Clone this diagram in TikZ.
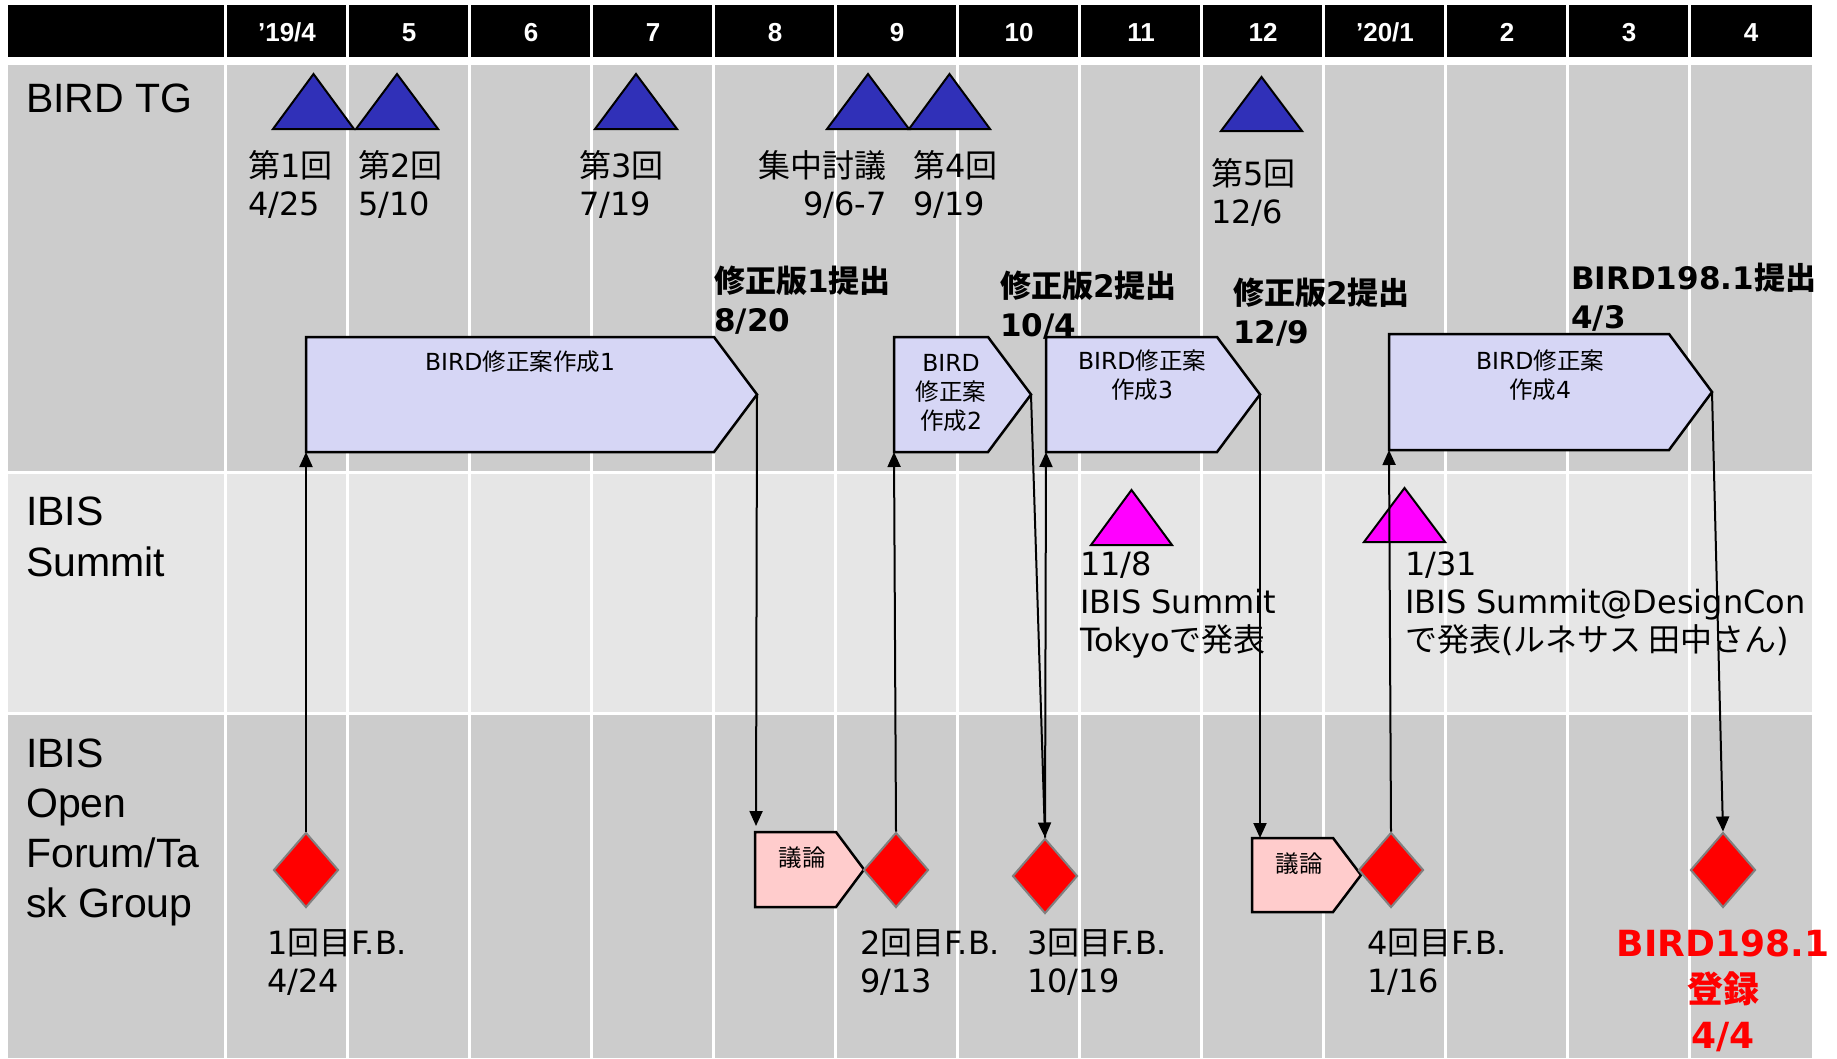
\documentclass[tikz,border=0pt]{standalone}
\usepackage{fontspec}
\setmainfont{DejaVu Sans}
\newfontfamily\jp{Noto Sans CJK JP}
\newfontfamily\arialf{Liberation Sans}
\usetikzlibrary{arrows.meta,shapes.geometric}
\newcommand\J[1]{{\jp #1}}
\definecolor{rowgray}{HTML}{CCCCCC}
\definecolor{rowlight}{HTML}{E6E6E6}
\definecolor{tgblue}{RGB}{48,48,184}
\definecolor{boxlav}{HTML}{D6D6F5}
\definecolor{boxpink}{HTML}{FFCCCC}
\definecolor{dgray}{HTML}{808080}
\definecolor{mag}{RGB}{255,0,255}
\begin{document}
\begin{tikzpicture}[x=1pt,y=-1pt,
  tri/.style={draw=black, line width=2pt, fill=tgblue},
  mtri/.style={draw=black, line width=2pt, fill=mag},
  pent/.style={draw=black, line width=2.5pt, fill=boxlav},
  gpent/.style={draw=black, line width=2.5pt, fill=boxpink},
  diam/.style={diamond, draw=dgray, fill=red, line width=2pt, minimum width=65pt, minimum height=75pt, inner sep=0pt},
  arr/.style={line width=2pt, -{Triangle[length=15pt,width=13pt]}},
  lbl/.style={font=\fontsize{32}{38}\selectfont, inner sep=0pt, align=left, anchor=base west},
  blbl/.style={font=\fontsize{31}{39}\selectfont\bfseries, inner sep=0pt, align=left, anchor=base west},
  boxtxt/.style={font=\fontsize{23.5}{29}\selectfont, inner sep=0pt, align=center, anchor=base},
  rowlbl/.style={font=\arialf\fontsize{41}{51}\selectfont, inner sep=0pt, align=left, anchor=base west},
  hdr/.style={font=\arialf\bfseries\fontsize{26}{30}\selectfont, text=white, inner sep=0pt, anchor=base},
]
\useasboundingbox (0,0) rectangle (1837,1058);
\fill[white] (0,0) rectangle (1837,1058);
% header and rows
\fill[black] (8,5) rectangle (1812,57);
\fill[rowgray] (8,65) rectangle (1812,471);
\fill[rowlight] (8,474) rectangle (1812,712);
\fill[rowgray] (8,715) rectangle (1812,1058);
\foreach \k in {0,...,12} \draw[white, line width=3pt] ({225.5+122*\k},5) -- ({225.5+122*\k},1058);
\foreach \t [count=\i from 0] in {’19/4,5,6,7,8,9,10,11,12,’20/1,2,3,4}
  \node[hdr] (h\i) at ({287+122*\i},41) {\t};
% row labels (anchor = baseline of last line)
\node[rowlbl] (rl1) at (26,112) {BIRD TG};
\node[rowlbl] (rl2) at (26,576) {IBIS\\Summit};
\node[rowlbl, font=\arialf\fontsize{41}{50}\selectfont] (rl3) at (26,917) {IBIS\\Open\\Forum/Ta\\sk Group};
% BIRD TG triangles
\draw[tri] (273,129) -- (354,129) -- (313.5,74) -- cycle;
\draw[tri] (356,129) -- (438,129) -- (397,74) -- cycle;
\draw[tri] (595,129) -- (677,129) -- (636,74) -- cycle;
\draw[tri] (827,129) -- (909,129) -- (868,74) -- cycle;
\draw[tri] (909,129) -- (990,129) -- (949.5,74) -- cycle;
\draw[tri] (1221,131) -- (1302,131) -- (1261.5,77) -- cycle;
% summit triangles
\draw[mtri] (1091,545) -- (1172,545) -- (1131.5,490) -- cycle;
\draw[mtri] (1364,542) -- (1445,542) -- (1404.5,488) -- cycle;
% pentagons
\draw[pent] (306,337) -- (714,337) -- (757,394.5) -- (714,452) -- (306,452) -- cycle;
\draw[pent] (894,337) -- (988,337) -- (1031,394.5) -- (988,452) -- (894,452) -- cycle;
\draw[pent] (1046,337) -- (1217,337) -- (1260,394.5) -- (1217,452) -- (1046,452) -- cycle;
\draw[pent] (1389,334) -- (1669,334) -- (1712,392) -- (1669,450) -- (1389,450) -- cycle;
\draw[gpent] (755,832) -- (836,832) -- (864,869.5) -- (836,907) -- (755,907) -- cycle;
\draw[gpent] (1252,838) -- (1333,838) -- (1361,875) -- (1333,912) -- (1252,912) -- cycle;
\coordinate (p1sw) at (306,452);
\coordinate (p1tip) at (757,394.5);
\coordinate (p2sw) at (894,452);
\coordinate (p2tip) at (1031,394.5);
\coordinate (p3sw) at (1046,452);
\coordinate (p3tip) at (1260,394.5);
\coordinate (p4sw) at (1389,450);
\coordinate (p4tip) at (1712,392);
\coordinate (g1nw) at (756,832);
\coordinate (g2n) at (1260,838);
% diamonds
\node[diam] (d1) at (306,870) {};
\node[diam] (d2) at (896,870) {};
\node[diam] (d3) at (1045,876) {};
\node[diam] (d4) at (1391,870) {};
\node[diam] (d5) at (1723,870) {};
% arrows
\draw[arr] (d1.north) -- (p1sw);
\draw[arr, shorten >=6pt] (p1tip) -- (g1nw);
\draw[arr] (d2.north) -- (p2sw);
\draw[arr] (p2tip) -- (d3.north);
\draw[arr] (d3.north) -- (p3sw);
\draw[arr] (p3tip) -- (g2n);
\draw[arr] (d4.north) -- (p4sw);
\draw[arr] (p4tip) -- (d5.north);
% box texts
\node[boxtxt] (p1t) at (520,370) {BIRD\J{修正案作成}1};
\node[boxtxt] (p2t) at (951,429) {BIRD\\\J{修正案}\\\J{作成}2};
\node[boxtxt] (p3t) at (1142,398) {BIRD\J{修正案}\\\J{作成}3};
\node[boxtxt] (p4t) at (1540,398) {BIRD\J{修正案}\\\J{作成}4};
\node[boxtxt] (g1t) at (802,866) {\J{議論}};
\node[boxtxt] (g2t) at (1299,872) {\J{議論}};
% TG meeting labels
\node[lbl] (m1) at (248,215) {\J{第}1\J{回}\\4/25};
\node[lbl] (m2) at (358,215) {\J{第}2\J{回}\\5/10};
\node[lbl] (m3) at (579,215) {\J{第}3\J{回}\\7/19};
\node[lbl, anchor=base east, align=right] (m4) at (887,215) {\J{集中討議}\\9/6-7};
\node[lbl] (m5) at (913,215) {\J{第}4\J{回}\\9/19};
\node[lbl] (m6) at (1211,223) {\J{第}5\J{回}\\12/6};
% submission labels
\node[blbl] (s1) at (714,331) {\J{修正版}1\J{提出}\\8/20};
\node[blbl] (s2) at (1000,336) {\J{修正版}2\J{提出}\\10/4};
\node[blbl] (s3) at (1233,343) {\J{修正版}2\J{提出}\\12/9};
\node[blbl] (s4) at (1571,328) {BIRD198.1\J{提出}\\4/3};
% summit labels
\node[lbl] (u1) at (1080,651) {11/8\\IBIS Summit\\Tokyo\J{で発表}};
\node[lbl] (u2) at (1405,651) {1/31\\IBIS Summit@DesignCon\\\J{で発表}(\J{ルネサス 田中さん})};
% feedback labels
\node[lbl] (f1) at (267,992) {1\J{回目}F.B.\\4/24};
\node[lbl] (f2) at (860,992) {2\J{回目}F.B.\\9/13};
\node[lbl] (f3) at (1027,992) {3\J{回目}F.B.\\10/19};
\node[lbl] (f4) at (1367,992) {4\J{回目}F.B.\\1/16};
\node[font=\fontsize{36}{46}\selectfont\bfseries, text=red, align=center, anchor=base, inner sep=0pt] (reg) at (1723,1048) {BIRD198.1\\\J{登録}\\4/4};
\end{tikzpicture}
\end{document}
